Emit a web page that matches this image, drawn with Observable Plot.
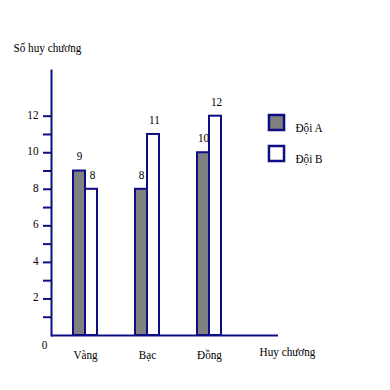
<!DOCTYPE html>
<html>
<head>
<meta charset="utf-8">
<script src="https://cdn.jsdelivr.net/npm/d3@7"></script>
<script src="https://cdn.jsdelivr.net/npm/@observablehq/plot@0.6"></script>
<style>
  html, body { margin: 0; padding: 0; background: #fff; }
  svg, svg text { font-family: "Liberation Serif", "Times New Roman", "DejaVu Serif", serif !important; }
</style>
</head>
<body>
<div id="chart"></div>
<script>
const categories = ["Vàng", "Bạc", "Đồng"];
const teams = ["Đội A", "Đội B"];
const doiA = [9, 8, 10];
const doiB = [8, 11, 12];
const yTicks = [1, 2, 3, 4, 5, 6, 7, 8, 9, 10, 11, 12];
const yTickLabels = [2, 4, 6, 8, 10, 12];
const yTitle = "Số huy chương";
const xTitle = "Huy chương";
const zeroLabel = "0";

const navy = "#0d0d84";
const gray = "#808080";
const font = "Liberation Serif";

const rowsA = categories.map((c, i) => ({cat: c, team: teams[0], value: doiA[i]}));
const rowsB = categories.map((c, i) => ({cat: c, team: teams[1], value: doiB[i]}));

const chart = Plot.plot({
  width: 390,
  height: 390,
  marginLeft: 51,
  marginRight: 112,
  marginTop: 70,
  marginBottom: 55,
  style: {fontFamily: font, fontSize: "13.5px", background: "#fff", color: "#000"},
  x: {domain: categories, paddingInner: 0.616, paddingOuter: 0.624, align: 0.282, axis: null, label: null},
  y: {domain: [0, 14.5], axis: null, label: null},
  marks: [
    Plot.barY(rowsA, {x: "cat", y: "value", insetRight: 12, fill: gray, stroke: navy, strokeWidth: 2}),
    Plot.barY(rowsB, {x: "cat", y: "value", insetLeft: 12, fill: "#fff", stroke: navy, strokeWidth: 2}),
    Plot.text(rowsA, {x: "cat", y: "value", text: d => String(d.value), dx: -6, dy: -15, fill: "#000", fontFamily: font}),
    Plot.text(rowsB, {x: "cat", y: "value", text: d => String(d.value), dx: 7, dy: -15, fill: "#000", fontFamily: font}),
    Plot.axisY(yTicks, {tickSize: 8, text: null, stroke: navy, strokeWidth: 2, label: null}),
    Plot.axisY(yTickLabels, {tickSize: 0, tickPadding: 13, dy: -2, fill: "#000", label: null, fontFamily: font}),
    Plot.axisX({tickSize: 0, tickPadding: 14, fill: "#000", label: null, fontFamily: font}),
    Plot.frame({anchor: "left", stroke: navy, strokeWidth: 2}),
    Plot.ruleY([0], {stroke: navy, strokeWidth: 2}),
    Plot.text([zeroLabel], {frameAnchor: "bottom-left", dx: -7, dy: 13, textAnchor: "middle", fill: "#000", fontFamily: font}),
    Plot.text([yTitle], {frameAnchor: "top-left", dx: -38, dy: -28, textAnchor: "start", fill: "#000", fontFamily: font}),
    Plot.text([xTitle], {frameAnchor: "bottom-right", dx: 9, dy: 20, textAnchor: "middle", fill: "#000", fontFamily: font}),
    ...teams.map((t, i) => Plot.dot([t], {frameAnchor: "top-right", dx: -2, dy: 52 + 31 * i, symbol: "square", r: 8.5, fill: i === 0 ? gray : "#fff", stroke: navy, strokeWidth: 2.5})),
    ...teams.map((t, i) => Plot.text([t], {frameAnchor: "top-right", dx: 17, dy: 52 + 31 * i, textAnchor: "start", fill: "#000", fontFamily: font}))
  ]
});
document.getElementById("chart").appendChild(chart);

// The reference typeface is horizontally condensed: squeeze each label about its own anchor point.
chart.querySelectorAll("text").forEach(t => {
  const x = +t.getAttribute("x") || 0;
  const tr = t.getAttribute("transform") || "";
  t.setAttribute("transform", `${tr} translate(${x},0) scale(0.83,1) translate(${-x},0)`.trim());
});
</script>
</body>
</html>
